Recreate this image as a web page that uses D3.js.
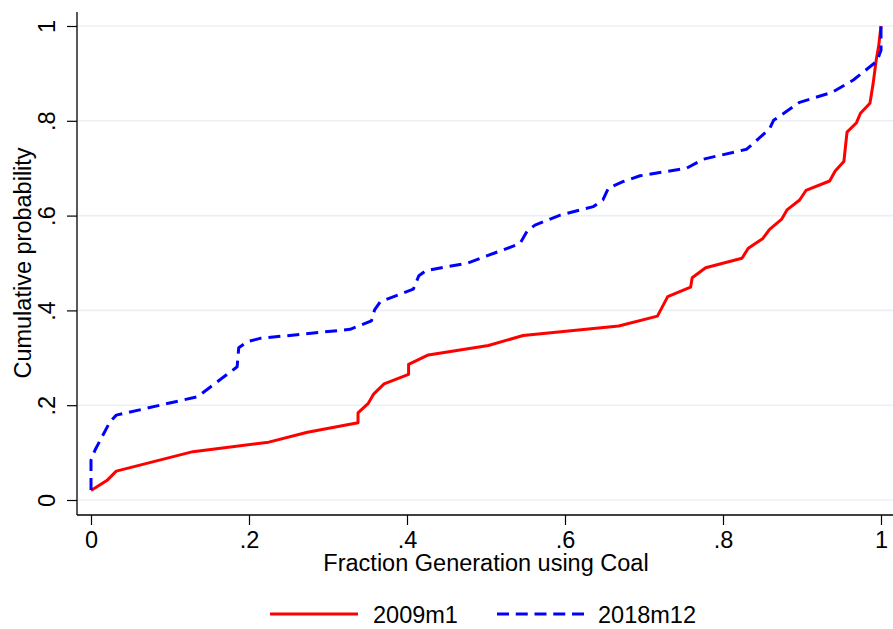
<!DOCTYPE html>
<html>
<head>
<meta charset="utf-8">
<script src="https://cdn.jsdelivr.net/npm/d3@7"></script>
<style>
  html, body { margin: 0; padding: 0; background: #fff; }
  svg { display: block; font-family: "Liberation Sans", Arial, sans-serif; }
</style>
</head>
<body>
<svg id="chart" width="893" height="629"></svg>
<script>
// Empirical CDF of the fraction of generation using coal, two months
const series2009X = [0.000, 0.020, 0.032, 0.129, 0.225, 0.274, 0.338, 0.338, 0.351, 0.358, 0.371, 0.402, 0.402, 0.427, 0.503, 0.547, 0.668, 0.717, 0.730, 0.759, 0.761, 0.778, 0.824, 0.832, 0.850, 0.859, 0.874, 0.881, 0.897, 0.905, 0.935, 0.942, 0.953, 0.957, 0.969, 0.974, 0.986, 0.990, 0.994, 0.997, 1.000];
const series2009Y = [0.020, 0.041, 0.061, 0.102, 0.122, 0.143, 0.163, 0.184, 0.204, 0.224, 0.245, 0.265, 0.286, 0.306, 0.326, 0.347, 0.367, 0.388, 0.429, 0.449, 0.469, 0.490, 0.510, 0.531, 0.551, 0.571, 0.592, 0.612, 0.633, 0.653, 0.673, 0.694, 0.714, 0.776, 0.796, 0.816, 0.837, 0.878, 0.929, 0.957, 1.000];

const series2018X = [0.000, 0.000, 0.005, 0.024, 0.032, 0.135, 0.185, 0.187, 0.198, 0.214, 0.328, 0.355, 0.359, 0.366, 0.408, 0.415, 0.424, 0.477, 0.543, 0.552, 0.562, 0.594, 0.636, 0.648, 0.655, 0.674, 0.695, 0.754, 0.775, 0.830, 0.859, 0.864, 0.897, 0.938, 0.965, 0.995, 1.000, 1.000];
const series2018Y = [0.021, 0.084, 0.105, 0.165, 0.179, 0.218, 0.281, 0.321, 0.334, 0.341, 0.360, 0.378, 0.401, 0.418, 0.445, 0.473, 0.484, 0.500, 0.541, 0.567, 0.580, 0.601, 0.619, 0.633, 0.658, 0.672, 0.684, 0.700, 0.719, 0.740, 0.783, 0.801, 0.839, 0.860, 0.886, 0.926, 0.949, 1.000];

const xTicks = [0, 0.2, 0.4, 0.6, 0.8, 1];
const yTicks = [0, 0.2, 0.4, 0.6, 0.8, 1];
const seriesNames = ["2009m1", "2018m12"];
const seriesColors = ["#ff0000", "#0000ff"];

const svg = d3.select("#chart");
const W = 893, H = 629;
const axisLeftX = 77, axisBottomY = 515, axisTopY = 12;

const x = d3.scaleLinear().domain([0, 1]).range([91, 881]);
const y = d3.scaleLinear().domain([0, 1]).range([500, 26]);

// Stata-style labels: drop the leading zero
const fmt = v => (v === 0 ? "0" : v === 1 ? "1" : d3.format(".1f")(v).replace(/^0/, ""));

// Horizontal gridlines
svg.append("g")
  .selectAll("line")
  .data(yTicks)
  .join("line")
  .attr("x1", axisLeftX + 1).attr("x2", W)
  .attr("y1", d => y(d)).attr("y2", d => y(d))
  .attr("stroke", "#eaf0f3").attr("stroke-width", 1.6);

// Y axis
const gy = svg.append("g")
  .attr("transform", `translate(${axisLeftX},0)`)
  .call(d3.axisLeft(y).tickValues(yTicks).tickSize(10).tickPadding(12).tickFormat(fmt));
gy.select(".domain").remove();
gy.selectAll(".tick line").attr("stroke", "#000").attr("stroke-width", 1.2);
gy.selectAll(".tick text")
  .attr("font-size", 23.5)
  .attr("fill", "#000")
  .attr("font-family", "Liberation Sans, Arial, sans-serif")
  .attr("text-anchor", "middle")
  .attr("dy", 0)
  .attr("x", 0)
  .attr("transform", "translate(-22,0) rotate(-90)");

// X axis
const gx = svg.append("g")
  .attr("transform", `translate(0,${axisBottomY})`)
  .call(d3.axisBottom(x).tickValues(xTicks).tickSize(10).tickPadding(6).tickFormat(fmt));
gx.select(".domain").remove();
gx.selectAll(".tick line").attr("stroke", "#000").attr("stroke-width", 1.2);
gx.selectAll(".tick text")
  .attr("font-size", 23.5)
  .attr("fill", "#000")
  .attr("font-family", "Liberation Sans, Arial, sans-serif");

// Axis lines
svg.append("line")
  .attr("x1", axisLeftX).attr("x2", axisLeftX)
  .attr("y1", axisTopY).attr("y2", axisBottomY)
  .attr("stroke", "#000").attr("stroke-width", 1.3);
svg.append("line")
  .attr("x1", axisLeftX).attr("x2", W)
  .attr("y1", axisBottomY).attr("y2", axisBottomY)
  .attr("stroke", "#000").attr("stroke-width", 1.3);

// Axis titles
svg.append("text")
  .attr("x", 486).attr("y", 571)
  .attr("text-anchor", "middle")
  .attr("font-size", 23.5)
  .text("Fraction Generation using Coal");
svg.append("text")
  .attr("transform", "translate(31,263) rotate(-90)")
  .attr("text-anchor", "middle")
  .attr("font-size", 23.5)
  .text("Cumulative probability");

// CDF lines
const line = d3.line().x(d => x(d[0])).y(d => y(d[1]));
const data2009 = series2009X.map((v, i) => [v, series2009Y[i]]);
const data2018 = series2018X.map((v, i) => [v, series2018Y[i]]);

svg.append("path")
  .datum(data2009)
  .attr("d", line)
  .attr("fill", "none")
  .attr("stroke", seriesColors[0])
  .attr("stroke-width", 3)
  .attr("stroke-linejoin", "round");

svg.append("path")
  .datum(data2018)
  .attr("d", line)
  .attr("fill", "none")
  .attr("stroke", seriesColors[1])
  .attr("stroke-width", 3)
  .attr("stroke-dasharray", "12,7")
  .attr("stroke-linejoin", "round");

// Legend
const legend = svg.append("g");
const legendItems = [
  { name: seriesNames[0], color: seriesColors[0], dash: null, x0: 270, x1: 358, tx: 373 },
  { name: seriesNames[1], color: seriesColors[1], dash: "12,6.75", x0: 497, x1: 584, tx: 598 }
];
legendItems.forEach(it => {
  legend.append("line")
    .attr("x1", it.x0).attr("x2", it.x1)
    .attr("y1", 614).attr("y2", 614)
    .attr("stroke", it.color).attr("stroke-width", 3)
    .attr("stroke-dasharray", it.dash);
  legend.append("text")
    .attr("x", it.tx).attr("y", 623)
    .attr("font-size", 23.5)
    .text(it.name);
});
</script>
</body>
</html>
